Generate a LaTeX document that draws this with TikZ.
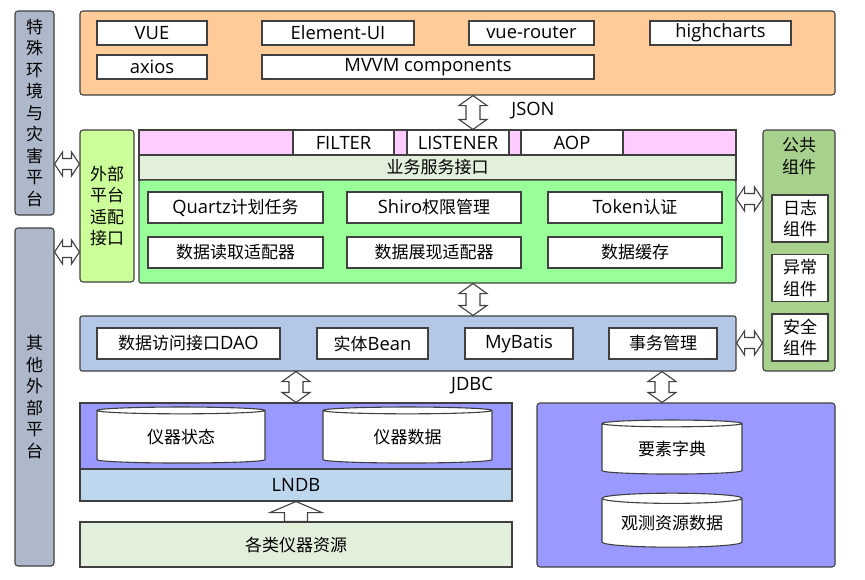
\documentclass[tikz,border=0pt]{standalone}
\usepackage{fontspec}
\setmainfont{Noto Sans CJK SC}
\newfontfamily\lat{Open Sans}[Scale=1.08]
\usetikzlibrary{shapes.geometric,calc}

\definecolor{edge}{RGB}{64,64,64}
\definecolor{slate}{RGB}{173,185,202}
\definecolor{peach}{RGB}{255,204,153}
\definecolor{adaptgreen}{RGB}{204,255,153}
\definecolor{rose}{RGB}{255,204,255}
\definecolor{sage}{RGB}{226,239,218}
\definecolor{mint}{RGB}{153,255,153}
\definecolor{steel}{RGB}{180,199,231}
\definecolor{moss}{RGB}{169,209,142}
\definecolor{lilac}{RGB}{153,153,255}
\definecolor{sky}{RGB}{189,215,238}

\newcommand{\vdarr}[3]{%
  \draw[hollow] let \p1=(#2.south), \p2=(#3.north) in
    (#1,\y1) -- (#1+14,\y1-10) -- (#1+7,\y1-10) -- (#1+7,\y2+10)
    -- (#1+14,\y2+10) -- (#1,\y2) -- (#1-14,\y2+10) -- (#1-7,\y2+10)
    -- (#1-7,\y1-10) -- (#1-14,\y1-10) -- cycle;}
\newcommand{\hdarr}[3]{%
  \draw[hollow] let \p1=(#2.east), \p2=(#3.west) in
    (\x1,#1) -- (\x1+8,#1+12) -- (\x1+8,#1+5.5) -- (\x2-8,#1+5.5)
    -- (\x2-8,#1+12) -- (\x2,#1) -- (\x2-8,#1-12) -- (\x2-8,#1-5.5)
    -- (\x1+8,#1-5.5) -- (\x1+8,#1-12) -- cycle;}
\newcommand{\uparr}[3]{%
  \draw[hollow] let \p1=(#2.south), \p2=(#3.north) in
    (#1,\y1) -- (#1+26,\y1-11) -- (#1+11.5,\y1-11) -- (#1+11.5,\y2)
    -- (#1-11.5,\y2) -- (#1-11.5,\y1-11) -- (#1-26,\y1-11) -- cycle;}

\begin{document}
\begin{tikzpicture}
    [x=1pt, y=1pt, every node/.style={font=\fontsize{17pt}{21.5pt}\selectfont,
      inner sep=0pt, align=center},
    box/.style={draw=edge, line width=1.1pt},
    panel/.style={box, rounded corners=3pt},
    wbox/.style={box, fill=white},
    latin/.style={font=\fontsize{17pt}{21.5pt}\lat},
    cyl/.style={cylinder, shape border rotate=90, aspect=0.1, draw=edge,
      line width=1.1pt, fill=white},
    hollow/.style={draw=edge, line width=1.1pt, fill=white, line join=miter}]

    \useasboundingbox (0,0) rectangle (865,-579);

    \node (spec) [panel, fill=slate, minimum width=39pt, minimum height=204pt]
      at (34.5,-113) {特\\殊\\环\\境\\与\\灾\\害\\平\\台};
    \node (other) [panel, fill=slate, minimum width=39pt, minimum height=338pt]
      at (34.5,-397) {其\\他\\外\\部\\平\\台};

    \node (front) [panel, fill=peach, minimum width=755pt, minimum height=84pt]
      at (457.5,-53) {};
    \node (vue) [wbox, latin, minimum width=110pt, minimum height=24pt]
      at (152,-33) {VUE};
    \node (axios) [wbox, latin, minimum width=110pt, minimum height=24pt]
      at (152,-67) {axios};
    \node (elem) [wbox, latin, minimum width=152pt, minimum height=24pt]
      at (338,-33) {Element-UI};
    \node (router) [wbox, latin, minimum width=125pt, minimum height=24pt]
      at (531.5,-33) {vue-router};
    \node (charts) [wbox, latin, minimum width=141pt, minimum height=24pt]
      at (720.5,-33) {highcharts};
    \node (mvvm) [wbox, latin, minimum width=332pt, minimum height=24pt]
      at (428,-67) {MVVM components};
    \node (json) [latin] at (533,-111) {JSON};

    \node (adapt) [panel, fill=adaptgreen, minimum width=54pt, minimum height=152pt]
      at (107,-206) {外部\\平台\\适配\\接口};

    \node (filt) [box, fill=rose, minimum width=597pt, minimum height=25pt]
      at (437.5,-142.5) {};
    \node (filter) [wbox, latin, minimum width=101pt, minimum height=25pt]
      at (343.5,-142.5) {FILTER};
    \node (listen) [wbox, latin, minimum width=102pt, minimum height=25pt]
      at (458,-142.5) {LISTENER};
    \node (aop) [wbox, latin, minimum width=102pt, minimum height=25pt]
      at (572,-142.5) {AOP};
    \node (svc) [box, fill=sage, minimum width=597pt, minimum height=25pt]
      at (437.5,-167.5) {业务服务接口};

    \node (biz) [box, rounded corners=2pt, fill=mint, minimum width=597pt,
      minimum height=103pt] at (437.5,-231.5) {};
    \node (quartz) [wbox, minimum width=175pt, minimum height=31pt]
      at (235.5,-207.5) {{\lat Quartz}计划任务};
    \node (read) [wbox, minimum width=175pt, minimum height=31pt]
      at (235.5,-252.5) {数据读取适配器};
    \node (shiro) [wbox, minimum width=174pt, minimum height=31pt]
      at (434,-207.5) {{\lat Shiro}权限管理};
    \node (show) [wbox, minimum width=174pt, minimum height=31pt]
      at (434,-252.5) {数据展现适配器};
    \node (token) [wbox, minimum width=174pt, minimum height=31pt]
      at (635,-207.5) {{\lat Token}认证};
    \node (cache) [wbox, minimum width=174pt, minimum height=31pt]
      at (635,-252.5) {数据缓存};

    \node (pub) [panel, fill=moss, minimum width=72pt, minimum height=241pt]
      at (799,-250.5) {};
    \node (pubt) at (799,-156) {公共\\组件};
    \node (log) [wbox, minimum width=56pt, minimum height=47pt]
      at (800,-218.5) {日志\\组件};
    \node (err) [wbox, minimum width=56pt, minimum height=47pt]
      at (800,-278) {异常\\组件};
    \node (sec) [wbox, minimum width=56pt, minimum height=47pt]
      at (800,-337.5) {安全\\组件};

    \node (dao) [box, rounded corners=2pt, fill=steel, minimum width=656pt,
      minimum height=55pt] at (408,-343.5) {};
    \node (daoi) [wbox, minimum width=183pt, minimum height=31pt]
      at (188.5,-343.5) {数据访问接口{\lat DAO}};
    \node (bean) [wbox, minimum width=111pt, minimum height=31pt]
      at (372.5,-343.5) {实体{\lat Bean}};
    \node (mybatis) [wbox, latin, minimum width=108pt, minimum height=31pt]
      at (519,-343.5) {MyBatis};
    \node (tx) [wbox, minimum width=108pt, minimum height=31pt]
      at (663,-343.5) {事务管理};
    \node (jdbc) [latin] at (472,-386) {JDBC};

    \node (store) [box, fill=lilac, minimum width=432pt, minimum height=66pt]
      at (296,-436) {};
    \node (state) [cyl, minimum width=168pt, minimum height=56pt]
      at (181,-437) {仪器状态};
    \node (data) [cyl, minimum width=169pt, minimum height=56pt]
      at (407.5,-437) {仪器数据};
    \node (lndb) [box, latin, fill=sky, minimum width=432pt, minimum height=32pt]
      at (296,-485) {LNDB};
    \node (src) [box, fill=sage, minimum width=432pt, minimum height=45pt]
      at (296,-544.5) {各类仪器资源};

    \node (dict) [panel, fill=lilac, minimum width=298pt, minimum height=164pt]
      at (686,-485) {};
    \node (elems) [cyl, minimum width=140pt, minimum height=54pt]
      at (672,-449) {要素字典};
    \node (obs) [cyl, minimum width=140pt, minimum height=54pt]
      at (672,-523) {观测资源数据};

    \vdarr{473}{front}{filt}
    \vdarr{473}{biz}{dao}
    \vdarr{296}{dao}{store}
    \vdarr{662}{dao}{dict}
    \uparr{296}{lndb}{src}
    \hdarr{-164}{spec}{adapt}
    \hdarr{-252}{other}{adapt}
    \hdarr{-199}{biz}{pub}
    \hdarr{-343}{dao}{pub}
  \end{tikzpicture}
\end{document}
